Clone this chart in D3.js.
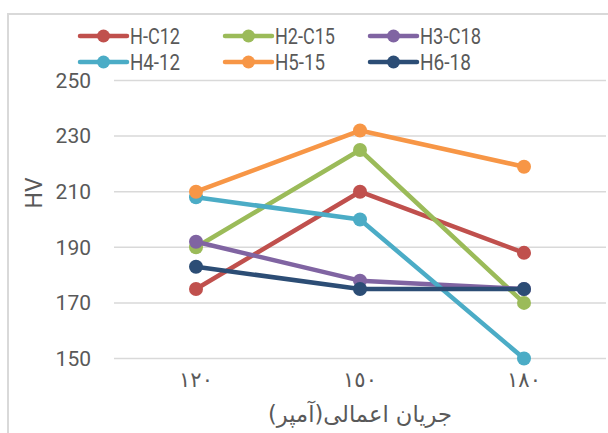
<!DOCTYPE html>
<html><head><meta charset="utf-8">
<script src="https://cdn.jsdelivr.net/npm/d3@7"></script>
<style>body{margin:0;background:#fff}svg{display:block}</style>
</head><body>
<script>
const categories = ["١٢٠", "١٥٠", "١٨٠"];
const seriesNames = ["H-C12", "H2-C15", "H3-C18", "H4-12", "H5-15", "H6-18"];
const seriesColors = ["#C0504D", "#9BBB59", "#8064A2", "#4BACC6", "#F79646", "#2C4D75"];
const vHC12 = [175, 210, 188];
const vH2C15 = [190, 225, 170];
const vH3C18 = [192, 178, 175];
const vH412 = [208, 200, 150];
const vH515 = [210, 232, 219];
const vH618 = [183, 175, 175];
const yTicks = [150, 170, 190, 210, 230, 250];
const yTitle = "HV";
const xTitle = "جریان اعمالی(آمپر)";

const series = [vHC12, vH2C15, vH3C18, vH412, vH515, vH618].map((v, i) => ({name: seriesNames[i], color: seriesColors[i], values: v}));

const W = 608, H = 433;
const svg = d3.select("body").append("svg").attr("width", W).attr("height", H);

svg.append("rect").attr("x", 8).attr("y", 14).attr("width", 620).attr("height", 440)
  .attr("fill", "none").attr("stroke", "#d9d9d9").attr("stroke-width", 2);

const plot = {left: 114, right: 606, top: 80.5, bottom: 358.5};
const x = d3.scaleBand().domain(categories).range([plot.left, plot.right]);
const y = d3.scaleLinear().domain([150, 250]).range([plot.bottom, plot.top]);

svg.append("g").selectAll("line").data(yTicks).join("line")
  .attr("x1", plot.left).attr("x2", plot.right)
  .attr("y1", d => y(d)).attr("y2", d => y(d))
  .attr("stroke", "#d9d9d9").attr("stroke-width", 1.5);

const yAxis = svg.append("g").attr("transform", `translate(${plot.left},0)`)
  .call(d3.axisLeft(y).tickValues(yTicks).tickSize(0).tickPadding(23));
yAxis.select(".domain").remove();
yAxis.selectAll("text").attr("font-family", "Roboto").attr("font-size", 21).attr("fill", "#595959");

const xAxis = svg.append("g").attr("transform", `translate(0,${plot.bottom})`)
  .call(d3.axisBottom(x).tickSize(0).tickPadding(14));
xAxis.select(".domain").remove();
xAxis.selectAll("text").attr("font-family", "DejaVu Sans").attr("font-size", 21).attr("fill", "#595959");

svg.append("text").attr("transform", "translate(42,193) rotate(-90)").attr("text-anchor", "middle")
  .attr("font-family", "Roboto").attr("font-size", 23).attr("fill", "#595959").text(yTitle);
const xt = svg.append("text").attr("x", 360).attr("y", 422).attr("text-anchor", "middle")
  .attr("font-family", "DejaVu Sans").attr("font-size", 23).attr("fill", "#595959").text(xTitle);
xt.attr("textLength", 184).attr("lengthAdjust", "spacingAndGlyphs");

const line = d3.line().x((d, i) => x(categories[i]) + x.bandwidth() / 2).y(d => y(d));
const g = svg.append("g");
series.forEach(s => {
  g.append("path").attr("d", line(s.values)).attr("fill", "none").attr("stroke", s.color)
    .attr("stroke-width", 4.5).attr("stroke-linejoin", "round").attr("stroke-linecap", "round");
  g.selectAll(null).data(s.values).join("circle")
    .attr("cx", (d, i) => x(categories[i]) + x.bandwidth() / 2).attr("cy", d => y(d))
    .attr("r", 7).attr("fill", s.color);
});

const legX = [80, 225, 370], legY = [36, 62];
const legW = [50, 60, 61, 50, 50, 51];
const leg = svg.append("g");
series.forEach((s, i) => {
  const lx = legX[i % 3], ly = legY[Math.floor(i / 3)];
  leg.append("line").attr("x1", lx).attr("x2", lx + 47).attr("y1", ly).attr("y2", ly)
    .attr("stroke", s.color).attr("stroke-width", 4.5).attr("stroke-linecap", "round");
  leg.append("circle").attr("cx", lx + 23.5).attr("cy", ly).attr("r", 6.5).attr("fill", s.color);
  leg.append("text").attr("x", lx + 50).attr("y", ly + 8)
    .attr("font-family", "Roboto").attr("font-size", 22).attr("fill", "#595959").text(s.name)
    .attr("textLength", legW[i]).attr("lengthAdjust", "spacingAndGlyphs");
});
</script>
</body></html>
